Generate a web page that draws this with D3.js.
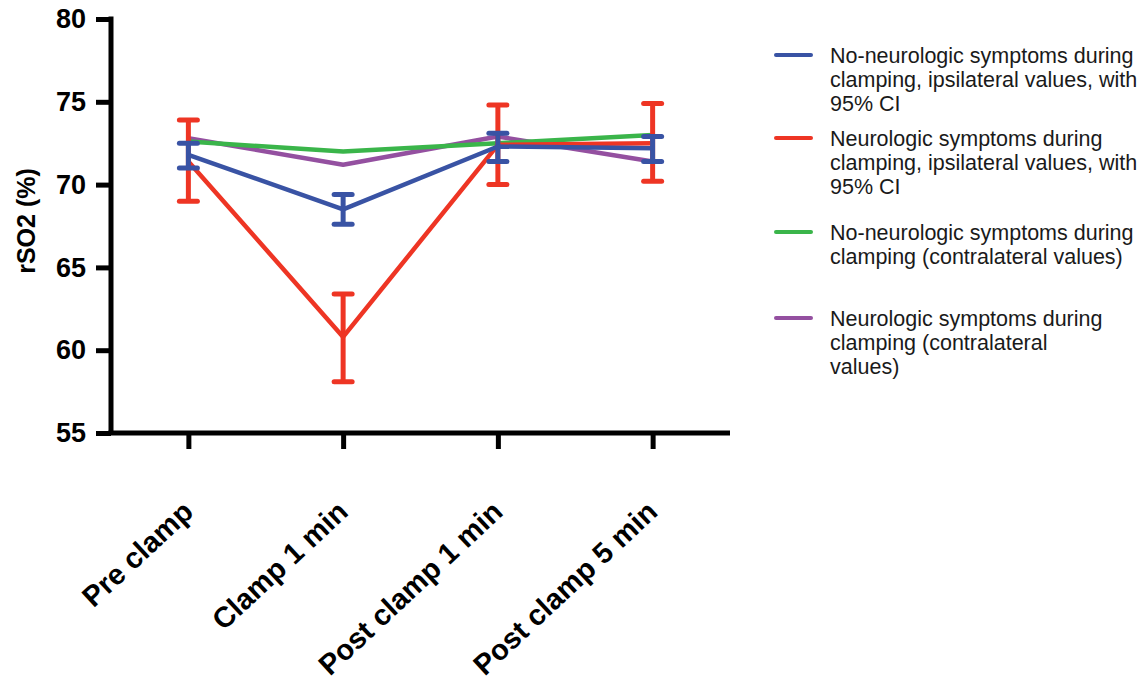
<!DOCTYPE html>
<html lang="en">
<head>
<meta charset="utf-8">
<script src="https://d3js.org/d3.v7.min.js"></script>
<style>
  body { margin: 0; background: #fff; }
  svg text { font-family: Arial, "Liberation Sans", Helvetica, sans-serif; }
  .axis path, .axis line { stroke: #000; stroke-width: 5; }
  .axis text { font-weight: bold; fill: #000; }
  .y.axis text { font-size: 27px; }
  .x.axis text { font-size: 29px; }
</style>
</head>
<body>
<svg width="1147" height="691"></svg>
<script>
// time points
var categories = ["Pre clamp", "Clamp 1 min", "Post clamp 1 min", "Post clamp 5 min"];
var yTicks = [55, 60, 65, 70, 75, 80];

// series means (rSO2 %)
var noNeuroIpsi   = [71.8, 68.5, 72.3, 72.2];
var neuroIpsi     = [71.4, 60.8, 72.4, 72.5];
var noNeuroContra = [72.6, 72.0, 72.5, 73.0];
var neuroContra   = [72.8, 71.2, 72.9, 71.4];

// 95% CI
var noNeuroIpsiLo = [71.0, 67.6, 71.4, 71.4];
var noNeuroIpsiHi = [72.5, 69.4, 73.1, 72.9];
var neuroIpsiLo   = [69.0, 58.1, 70.0, 70.2];
var neuroIpsiHi   = [73.9, 63.4, 74.8, 74.9];

var legendLabels = [
  ["No-neurologic symptoms during", "clamping, ipsilateral values, with", "95% CI"],
  ["Neurologic symptoms during", "clamping, ipsilateral values, with", "95% CI"],
  ["No-neurologic symptoms during", "clamping (contralateral values)"],
  ["Neurologic symptoms during", "clamping (contralateral", "values)"]
];

var series = [
  { vals: neuroContra,   color: "#9450a0" },
  { vals: noNeuroContra, color: "#3ab54a" },
  { vals: neuroIpsi,     color: "#ee3524", lo: neuroIpsiLo, hi: neuroIpsiHi },
  { vals: noNeuroIpsi,   color: "#3953a4", lo: noNeuroIpsiLo, hi: noNeuroIpsiHi }
];
var legendColors = ["#3953a4", "#ee3524", "#3ab54a", "#9450a0"];
var legendY = [55, 138, 232, 318];

var svg = d3.select("svg");

var x = d3.scalePoint().domain(categories).range([111, 730]).padding(0.5);
var y = d3.scaleLinear().domain([55, 80]).range([433, 19]);

// lines
var line = d3.line()
  .x(function(d, i) { return x(categories[i]); })
  .y(function(d) { return y(d); });

series.forEach(function(s) {
  var g = svg.append("g");
  if (s.lo) {
    categories.forEach(function(c, i) {
      var cx = x(c);
      g.append("line").attr("x1", cx).attr("x2", cx)
        .attr("y1", y(s.lo[i])).attr("y2", y(s.hi[i]))
        .attr("stroke", s.color).attr("stroke-width", 5);
      [s.lo[i], s.hi[i]].forEach(function(v) {
        g.append("line").attr("x1", cx - 9).attr("x2", cx + 9)
          .attr("y1", y(v)).attr("y2", y(v))
          .attr("stroke", s.color).attr("stroke-width", 5)
          .attr("stroke-linecap", "round");
      });
    });
  }
  g.append("path").datum(s.vals)
    .attr("d", line)
    .attr("fill", "none")
    .attr("stroke", s.color)
    .attr("stroke-width", 4.5)
    .attr("stroke-linejoin", "round");
});

// axes
var yAxis = svg.append("g").attr("class", "y axis")
  .attr("transform", "translate(111,0)")
  .call(d3.axisLeft(y).tickValues(yTicks).tickSize(15).tickSizeOuter(0).tickPadding(10));
yAxis.select(".domain").attr("d", "M0," + (y(80) - 2.5) + "V" + y(55));

var xAxis = svg.append("g").attr("class", "x axis")
  .attr("transform", "translate(0,433)")
  .call(d3.axisBottom(x).tickSize(16).tickSizeOuter(0));
xAxis.select(".domain").attr("d", "M108.5,0H730");
xAxis.selectAll("text")
  .attr("text-anchor", "end")
  .attr("x", 0).attr("y", 0).attr("dy", "0")
  .attr("transform", "translate(6,81) rotate(-43)");

// y label
svg.append("text")
  .attr("transform", "translate(35,221) rotate(-90)")
  .attr("text-anchor", "middle")
  .style("font-weight", "bold")
  .style("font-size", "25px")
  .text("rSO2 (%)");

// legend
legendLabels.forEach(function(lines, i) {
  var ly = legendY[i];
  svg.append("line")
    .attr("x1", 776).attr("x2", 811)
    .attr("y1", ly).attr("y2", ly)
    .attr("stroke", legendColors[i]).attr("stroke-width", 4)
    .attr("stroke-linecap", "round");
  var t = svg.append("text")
    .attr("x", 830).attr("y", ly + 8)
    .style("font-size", "21.5px").attr("fill", "#1a1a1a");
  lines.forEach(function(l, j) {
    t.append("tspan").attr("x", 830).attr("dy", j === 0 ? 0 : 24).text(l);
  });
});
</script>
</body>
</html>
